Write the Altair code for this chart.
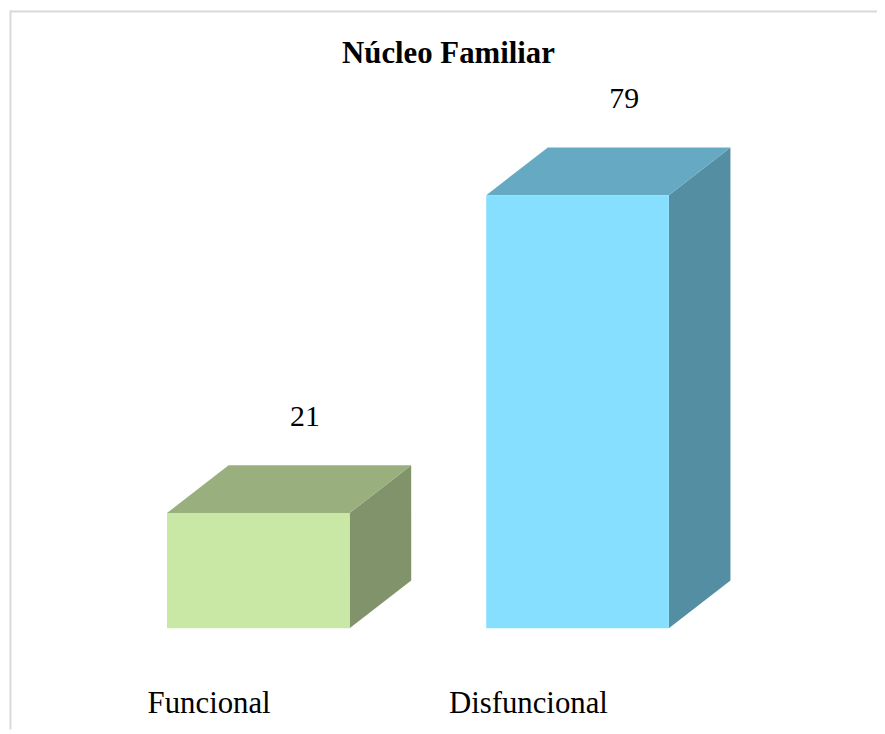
import altair as alt
import pandas as pd

# ---- data ----
categories = ["Funcional", "Disfuncional"]
values = [21, 79]
front_colors = ["#C9E8A6", "#86DFFE"]
top_colors = ["#99AF7E", "#66A9C2"]
side_colors = ["#80936A", "#548EA3"]
title_text = "Núcleo Familiar"

# ---- geometry (in data units) ----
HW = 0.286      # half width of the front face, in category slots
DX = 0.193      # 3D depth along x, in slots
DY = 8.7        # 3D depth along y, in value units
X_DOMAIN = [-0.784, 1.938]
Y_DOMAIN = [-18.5, 112.7]
W, H = 875, 724
FONT = "Liberation Serif"

slots = list(range(len(categories)))

front = pd.DataFrame({
    "cat": categories,
    "x": [s - HW for s in slots],
    "x2": [s + HW for s in slots],
    "y": [0] * len(values),
    "y2": values,
    "slot": slots,
    "value": values,
})

top_rows, side_rows = [], []
for c, s, v in zip(categories, slots, values):
    top_rows += [
        {"cat": c, "x": s - HW, "lo": v, "hi": v},
        {"cat": c, "x": s - HW + DX, "lo": v, "hi": v + DY},
        {"cat": c, "x": s + HW, "lo": v, "hi": v + DY},
        {"cat": c, "x": s + HW + DX, "lo": v + DY, "hi": v + DY},
    ]
    side_rows += [
        {"cat": c, "x": s + HW, "lo": 0, "hi": v},
        {"cat": c, "x": s + HW + DX, "lo": DY, "hi": v + DY},
    ]
top = pd.DataFrame(top_rows)
side = pd.DataFrame(side_rows)

xs = alt.Scale(domain=X_DOMAIN, nice=False, zero=False)
ys = alt.Scale(domain=Y_DOMAIN, nice=False, zero=False)

def col(rng):
    return alt.Color("cat:N", scale=alt.Scale(domain=categories, range=rng), legend=None)

front_layer = alt.Chart(front).mark_rect().encode(
    x=alt.X("x:Q", scale=xs, axis=None),
    x2="x2:Q",
    y=alt.Y("y:Q", scale=ys, axis=None),
    y2="y2:Q",
    color=col(front_colors),
)

top_layer = alt.Chart(top).mark_area(orient="vertical").encode(
    x=alt.X("x:Q", scale=xs, axis=None),
    y=alt.Y("lo:Q", scale=ys, axis=None, stack=None),
    y2="hi:Q",
    color=col(top_colors),
)

side_layer = alt.Chart(side).mark_area(orient="vertical").encode(
    x=alt.X("x:Q", scale=xs, axis=None),
    y=alt.Y("lo:Q", scale=ys, axis=None, stack=None),
    y2="hi:Q",
    color=col(side_colors),
)

value_labels = alt.Chart(front).mark_text(
    font=FONT, fontSize=30, color="black", align="center", baseline="alphabetic", dx=47, dy=-88
).encode(
    x=alt.X("slot:Q", scale=xs, axis=None),
    y=alt.Y("value:Q", scale=ys, axis=None),
    text="value:Q",
)

cat_labels = alt.Chart(front).mark_text(
    font=FONT, fontSize=31, color="black", align="center", baseline="alphabetic", dx=-49.5
).encode(
    x=alt.X("slot:Q", scale=xs, axis=None),
    y=alt.value(707),
    text="cat:N",
)

title_layer = alt.Chart(pd.DataFrame({"t": [title_text]})).mark_text(
    font=FONT, fontSize=31, fontWeight="bold", color="black", align="center", baseline="alphabetic"
).encode(
    x=alt.value(443.5),
    y=alt.value(53),
    text="t:N",
)

frame_top = alt.Chart(pd.DataFrame({"a": [0]})).mark_rule(color="#D9D9D9", strokeWidth=2).encode(
    x=alt.value(2), x2=alt.value(W), y=alt.value(1)
)
frame_left = alt.Chart(pd.DataFrame({"a": [0]})).mark_rule(color="#D9D9D9", strokeWidth=2).encode(
    x=alt.value(2.5), y=alt.value(0), y2=alt.value(H)
)

chart = alt.layer(
    frame_top, frame_left, side_layer, top_layer, front_layer, value_labels, cat_labels, title_layer
).properties(
    width=W, height=H, autosize=alt.AutoSizeParams(type="none"), padding=0
).configure_view(strokeWidth=0).resolve_scale(color="independent")

chart.save("out.html", embed_options={"renderer": "svg", "actions": False})
